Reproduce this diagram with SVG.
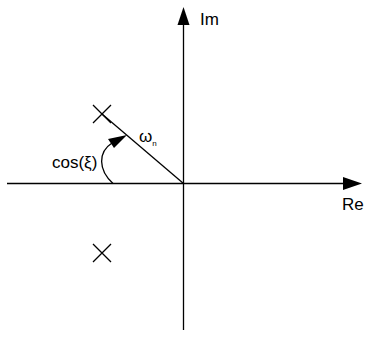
<svg xmlns="http://www.w3.org/2000/svg" width="367" height="358" viewBox="0 0 367 358">
<style>
.ln{stroke:#000;stroke-width:1.3;fill:none}
.t{font-family:"Liberation Sans",Arial,sans-serif;font-size:17px;fill:#000}
</style>
<rect width="367" height="358" fill="#fff"/>
<g id="connectors">
<line class="ln" x1="7" y1="183.5" x2="344" y2="183.5"/>
<polygon points="343,177 362,183.5 343,190" fill="#000"/>
<line class="ln" x1="183.5" y1="330" x2="183.5" y2="24"/>
<polygon points="177.5,25 183.5,7 189.5,25" fill="#000"/>
<line class="ln" x1="102" y1="114" x2="183.5" y2="183.5"/>
<path class="ln" d="M113,183.5 C98,170 98,152 112,143"/>
<polygon points="127,135 108,139 114,148" fill="#000"/>
</g>
<g id="pole1"><path class="ln" d="M93,105 L111,123 M111,105 L93,123"/></g>
<g id="pole2"><path class="ln" d="M93,244 L111,262 M111,244 L93,262"/></g>
<g id="labels">
<text class="t" x="200" y="25">Im</text>
<text class="t" x="342" y="210">Re</text>
<text class="t" x="52" y="168">cos(ξ)</text>
<text class="t" x="139" y="142">ω<tspan font-size="8" dy="4">n</tspan></text>
</g>
</svg>
